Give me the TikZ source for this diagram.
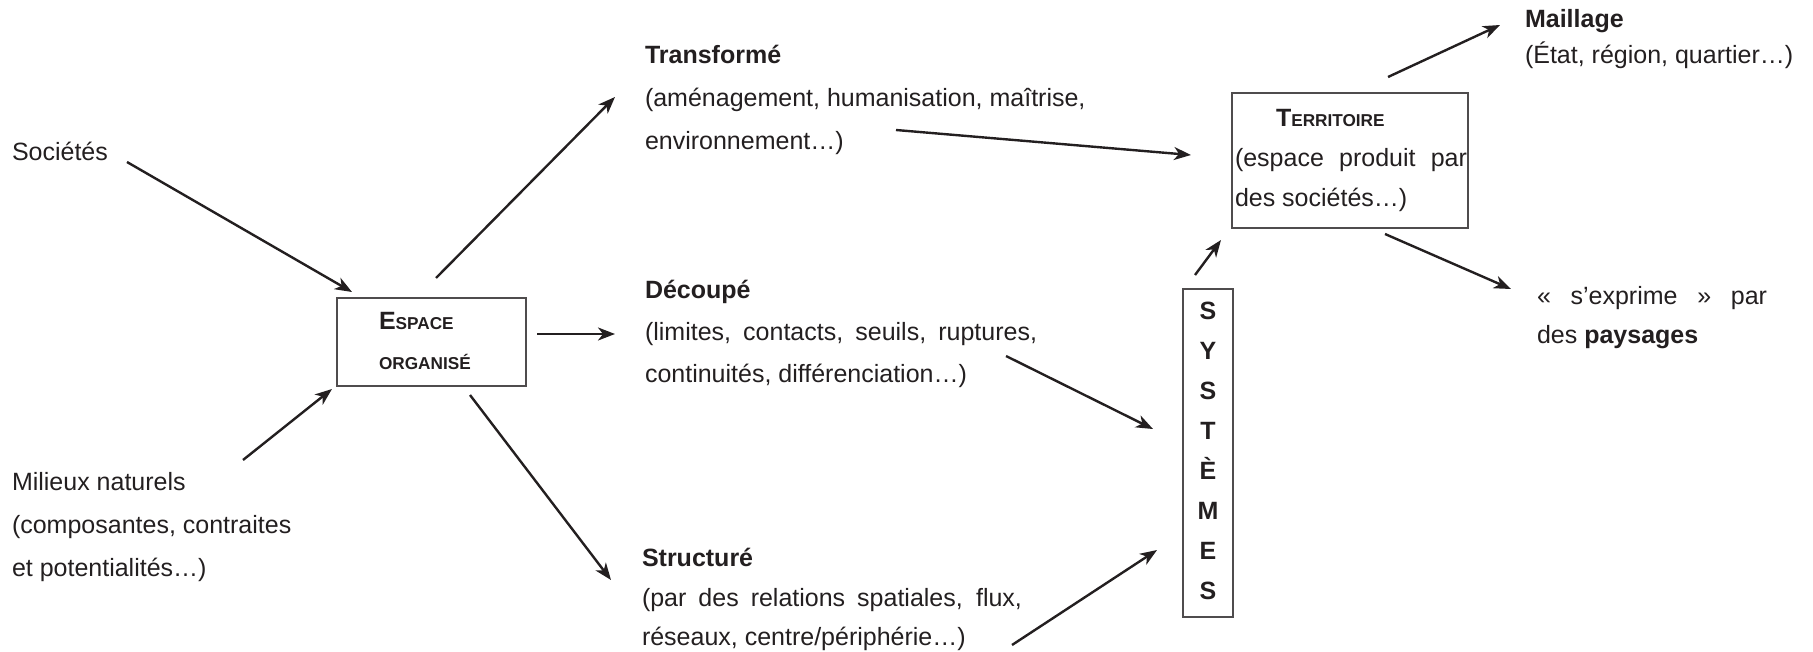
\documentclass[tikz,border=0pt]{standalone}
\usepackage{fontspec}
\setmainfont{Liberation Sans}
\usetikzlibrary{arrows.meta}
\definecolor{ink}{HTML}{231F20}
\newcommand{\bigsc}[2]{{\fontsize{12.5}{14}\selectfont #1}{\fontsize{8.6}{10}\selectfont #2}}
\newcommand{\stretchline}[2]{\makebox[#1][s]{#2}}
\begin{document}
\begin{tikzpicture}[x=0.5pt,y=-0.5pt,
  txt/.style={anchor=base west, inner sep=0pt, outer sep=0pt, text=ink, font=\fontsize{12.5}{15}\selectfont},
  ttl/.style={txt, font=\fontsize{12.5}{15}\selectfont\bfseries},
  letter/.style={anchor=base, inner sep=0pt, text=ink, font=\fontsize{12.5}{15}\selectfont\bfseries},
  arr/.style={draw=ink, line width=1.2pt, -{Stealth[length=8.5pt,width=6.5pt,inset=2.5pt]}},
  frame/.style={draw=ink!80, line width=0.6pt}]
\useasboundingbox (0,0) rectangle (1813,652);

% left texts
\node[txt] (soc) at (12,161) {Sociétés};
\node[txt] (mil1) at (12,490) {Milieux naturels};
\node[txt] (mil2) at (12,533) {(composantes, contraites};
\node[txt] (mil3) at (12,576) {et potentialités…)};

% Espace organise box
\draw[frame] (337,298) rectangle (526,386);
\node[txt, font=\bfseries] (esp1) at (379,329) {\bigsc{E}{SPACE}};
\node[txt, font=\bfseries] (esp2) at (379,369) {\fontsize{8.6}{10}\selectfont ORGANISÉ};

% Transforme
\node[ttl] (tr1) at (645,64) {Transformé};
\node[txt] (tr2) at (645,107) {(aménagement, humanisation, maîtrise,};
\node[txt] (tr3) at (645,150) {environnement…)};

% Decoupe
\node[ttl] (de1) at (645,298) {Découpé};
\node[txt] (de2) at (645,340) {\stretchline{196pt}{(limites, contacts, seuils, ruptures,}};
\node[txt] (de3) at (645,382) {continuités, différenciation…)};

% Structure
\node[ttl] (st1) at (642,566) {Structuré};
\node[txt] (st2) at (642,606) {\stretchline{190pt}{(par des relations spatiales, flux,}};
\node[txt] (st3) at (642,645) {réseaux, centre/périphérie…)};

% Territoire box
\draw[frame] (1232,93) rectangle (1468,228);
\node[txt, font=\bfseries] (te1) at (1276,127) {\bigsc{T}{ERRITOIRE}};
\node[txt] (te2) at (1235,167) {\stretchline{116pt}{(espace produit par}};
\node[txt] (te3) at (1235,206) {des sociétés…)};

% Systemes box
\draw[frame] (1183,289) rectangle (1233,617);
\foreach \l [count=\i from 0] in {S,Y,S,T,È,M,E,S}{
  \node[letter] (sy\i) at (1208,{319+40*\i}) {\l};
}

% Maillage
\node[ttl] (ma1) at (1525,28) {Maillage};
\node[txt] (ma2) at (1525,64) {(État, région, quartier…)};

% paysages
\node[txt] (pa1) at (1537,304) {\stretchline{115pt}{« s’exprime » par}};
\node[txt] (pa2) at (1537,343) {des \textbf{paysages}};

% arrow end points
\coordinate (a1s) at (127,162);  \coordinate (a1e) at (352,292);
\coordinate (a2s) at (243,460);  \coordinate (a2e) at (332,389);
\coordinate (a3s) at (436,278);  \coordinate (a3e) at (615,97);
\coordinate (a4s) at (537,334);  \coordinate (a4e) at (615,334);
\coordinate (a5s) at (470,395);  \coordinate (a5e) at (611,580);
\coordinate (a6s) at (896,130);  \coordinate (a6e) at (1191,155);
\coordinate (a7s) at (1006,356); \coordinate (a7e) at (1153,429);
\coordinate (a8s) at (1012,645); \coordinate (a8e) at (1157,550);
\coordinate (a9s) at (1195,275); \coordinate (a9e) at (1221,240);
\coordinate (a10s) at (1388,77); \coordinate (a10e) at (1500,25);
\coordinate (a11s) at (1385,234);\coordinate (a11e) at (1511,289);

\foreach \k in {1,...,11}{ \draw[arr] (a\k s) -- (a\k e); }
\end{tikzpicture}
\end{document}
